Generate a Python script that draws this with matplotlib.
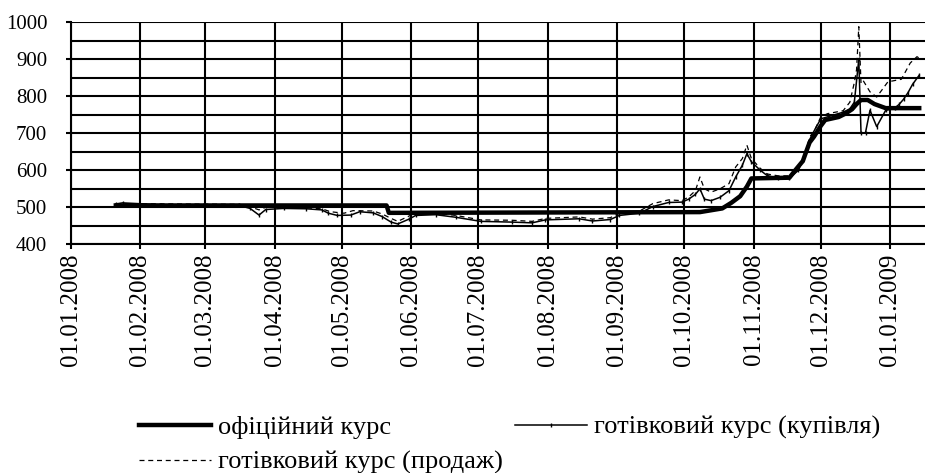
import numpy as np
import pandas as pd
import matplotlib
matplotlib.use("Agg")
from matplotlib import pyplot as plt
import matplotlib.dates as mdates
from matplotlib.ticker import MultipleLocator

plt.rcParams['font.family'] = ['Liberation Serif', 'DejaVu Serif']

# офіційний курс (грн за 100 USD)
official_dates = ["2008-01-21", "2008-05-21", "2008-05-22", "2008-10-08", "2008-10-18",
                  "2008-10-22", "2008-10-26", "2008-10-29", "2008-10-31", "2008-11-17",
                  "2008-11-20", "2008-11-23", "2008-11-24", "2008-11-26", "2008-11-28",
                  "2008-12-01", "2008-12-03", "2008-12-09", "2008-12-12", "2008-12-15",
                  "2008-12-17", "2008-12-19", "2008-12-22", "2008-12-25", "2008-12-30",
                  "2009-01-14"]
official_vals = [505, 505, 485, 487, 497,
                 512, 530, 556, 578, 580,
                 603, 625, 642, 675, 691,
                 720, 736, 744, 753, 765,
                 779, 790, 790, 779, 768,
                 768]

# готівковий курс (купівля)
buy_dates = ["2008-01-21", "2008-01-24", "2008-02-10", "2008-03-01", "2008-03-16",
             "2008-03-21", "2008-03-25", "2008-03-28", "2008-04-05", "2008-04-15",
             "2008-04-22", "2008-04-25", "2008-04-29", "2008-05-05", "2008-05-09",
             "2008-05-15", "2008-05-19", "2008-05-23", "2008-05-26", "2008-05-31",
             "2008-06-03", "2008-06-12", "2008-06-21", "2008-07-02", "2008-07-16",
             "2008-07-25", "2008-07-31", "2008-08-15", "2008-08-21", "2008-08-29",
             "2008-09-02", "2008-09-11", "2008-09-17", "2008-09-24", "2008-09-30",
             "2008-10-03", "2008-10-06", "2008-10-08", "2008-10-10", "2008-10-13",
             "2008-10-17", "2008-10-21", "2008-10-24", "2008-10-27", "2008-10-29",
             "2008-10-31", "2008-11-04", "2008-11-07", "2008-11-12", "2008-11-17",
             "2008-11-21", "2008-11-23", "2008-11-26", "2008-11-27", "2008-12-01",
             "2008-12-06", "2008-12-11", "2008-12-14", "2008-12-16", "2008-12-18",
             "2008-12-19", "2008-12-21", "2008-12-23", "2008-12-26", "2008-12-30",
             "2009-01-03", "2009-01-05", "2009-01-07", "2009-01-09", "2009-01-11",
             "2009-01-14"]
buy_vals = [509, 512, 507, 506, 505,
            497, 479, 494, 497, 496,
            493, 484, 478, 479, 488,
            485, 475, 460, 455, 468,
            478, 480, 473, 462, 460,
            458, 466, 469, 463, 467,
            478, 484, 502, 513, 514,
            522, 535, 550, 522, 518,
            527, 545, 582, 614, 645,
            623, 600, 586, 578, 578,
            600, 629, 682, 695, 739,
            748, 757, 766, 784, 900,
            700, 702, 762, 718, 762,
            768, 778, 792, 810, 832,
            857]

# готівковий курс (продаж)
sell_dates = ["2008-01-21", "2008-03-16", "2008-03-20", "2008-03-25", "2008-03-28",
              "2008-04-10", "2008-04-22", "2008-04-26", "2008-05-02", "2008-05-06",
              "2008-05-15", "2008-05-19", "2008-05-23", "2008-05-26", "2008-06-02",
              "2008-06-12", "2008-06-21", "2008-07-02", "2008-07-16", "2008-07-25",
              "2008-07-31", "2008-08-15", "2008-08-21", "2008-08-29", "2008-09-02",
              "2008-09-11", "2008-09-17", "2008-09-24", "2008-09-30", "2008-10-03",
              "2008-10-06", "2008-10-08", "2008-10-10", "2008-10-13", "2008-10-17",
              "2008-10-21", "2008-10-24", "2008-10-27", "2008-10-29", "2008-10-31",
              "2008-11-04", "2008-11-07", "2008-11-12", "2008-11-17", "2008-11-21",
              "2008-11-24", "2008-11-26", "2008-11-28", "2008-12-01", "2008-12-04",
              "2008-12-11", "2008-12-14", "2008-12-16", "2008-12-17", "2008-12-18",
              "2008-12-19", "2008-12-20", "2008-12-23", "2008-12-26", "2008-12-31",
              "2009-01-06", "2009-01-10", "2009-01-13", "2009-01-14"]
sell_vals = [510, 508, 504, 493, 500,
             500, 496, 488, 484, 491,
             490, 482, 470, 462, 482,
             484, 478, 466, 465, 462,
             470, 474, 468, 472, 484,
             490, 510, 520, 518, 528,
             545, 582, 550, 541, 550,
             564, 609, 632, 668, 632,
             605, 590, 585, 585, 605,
             640, 690, 705, 744, 753,
             761, 784, 837, 872, 988,
             835, 842, 812, 798, 839,
             846, 890, 907, 903]

labels = ["офіційний курс", "готівковий курс (купівля)", "готівковий курс (продаж)"]

official = pd.Series(official_vals, index=pd.to_datetime(official_dates))
buy = pd.Series(buy_vals, index=pd.to_datetime(buy_dates))
sell = pd.Series(sell_vals, index=pd.to_datetime(sell_dates))

fig = plt.figure(figsize=(9.25, 4.73), dpi=100)
ax = fig.add_axes([0.0768, 0.4835, 0.9232, 0.4694])

l_off, = ax.plot(official.index, official.values, color='black', lw=3.2, label=labels[0])
l_buy, = ax.plot(buy.index, buy.values, color='black', lw=1.1, marker='|', ms=3.5,
                 mew=1.0, label=labels[1])
l_sell, = ax.plot(sell.index, sell.values, color='black', lw=0.9, dashes=(4, 3),
                  label=labels[2])

ax.set_ylim(400, 1000)
ax.set_xlim(pd.Timestamp("2008-01-01"), pd.Timestamp("2009-01-16 14:00"))

ax.yaxis.set_major_locator(MultipleLocator(100))
ax.yaxis.set_minor_locator(MultipleLocator(50))
ax.xaxis.set_major_locator(mdates.MonthLocator(bymonthday=1))
ax.xaxis.set_major_formatter(mdates.DateFormatter('%d.%m.%Y'))

ax.grid(True, which='major', axis='both', color='black', lw=1.5)
ax.grid(True, which='minor', axis='y', color='black', lw=1.5)
ax.set_axisbelow(True)

for side in ['top', 'right']:
    ax.spines[side].set_visible(False)
for side in ['left', 'bottom']:
    ax.spines[side].set_linewidth(1.5)

ax.tick_params(axis='y', which='major', length=3.6, width=1.5, pad=13.5, labelsize=15)
ax.tick_params(axis='y', which='minor', length=0)
ax.tick_params(axis='x', which='major', length=3.6, width=1.5, pad=3, labelsize=18,
               labelrotation=90)

fig.legend(handles=[l_off, l_sell, l_buy], loc='upper left', bbox_to_anchor=(0.150, 0.122),
           ncol=2, frameon=False, fontsize=19, handlelength=2.75, handletextpad=0.25,
           columnspacing=0.45, labelspacing=0.44, borderpad=0, borderaxespad=0)

fig.savefig("out.png", dpi=100)
